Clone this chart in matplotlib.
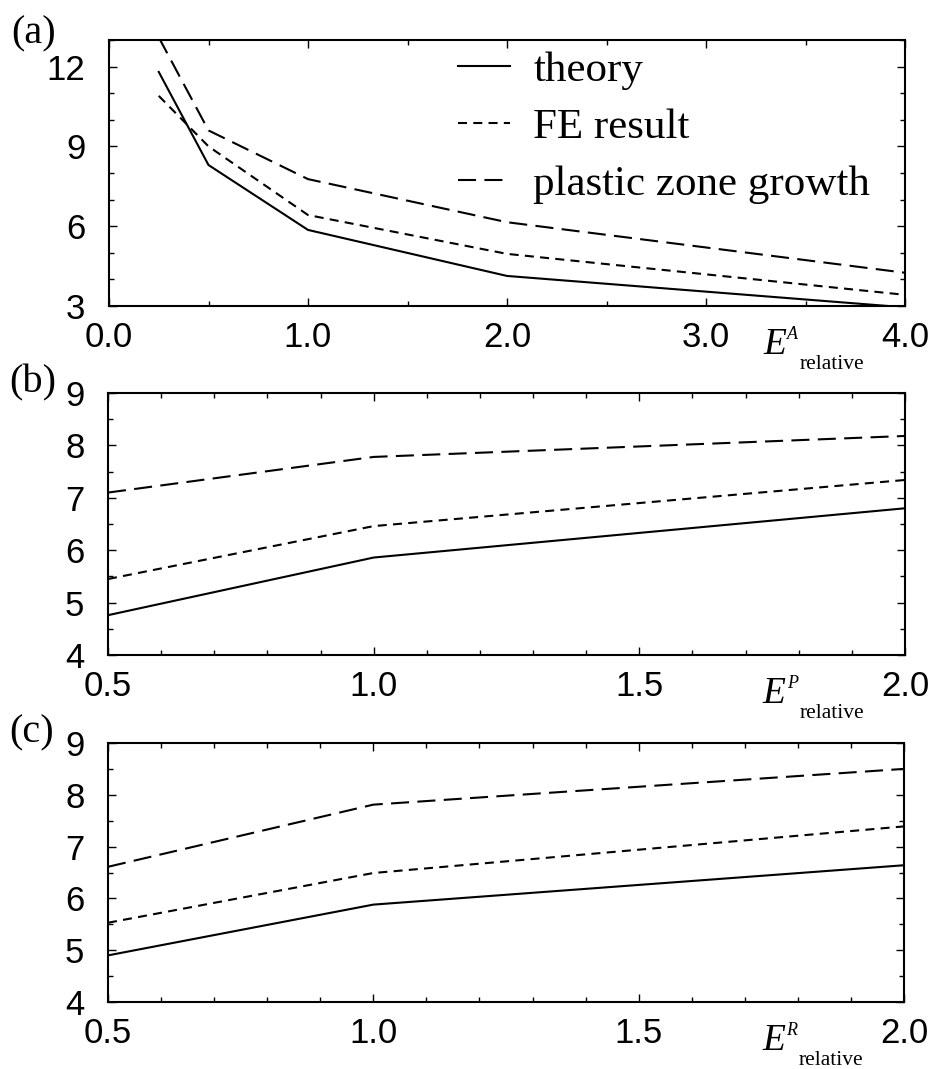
"""
Three stacked panels: theory vs FE vs plastic zone growth
against relative stiffness of each layer
"""
import matplotlib
matplotlib.use('Agg')
import matplotlib.pyplot as plt
from matplotlib.ticker import MultipleLocator, FormatStrFormatter

# panel (a): E^A relative
xa = [0.25, 0.5, 1.0, 2.0, 4.0]
theory_a = [11.8, 8.3, 5.86, 4.13, 2.95]
fe_a = [10.9, 9.0, 6.42, 4.96, 3.42]
plastic_a = [13.1, 9.6, 7.77, 6.15, 4.25]

# panel (b): E^P relative
xb = [0.5, 1.0, 2.0]
theory_b = [4.76, 5.86, 6.8]
fe_b = [5.45, 6.46, 7.34]
plastic_b = [7.1, 7.78, 8.18]

# panel (c): E^R relative
xc = [0.5, 1.0, 2.0]
theory_c = [4.9, 5.88, 6.64]
fe_c = [5.53, 6.49, 7.39]
plastic_c = [6.61, 7.81, 8.5]

labels = ['theory', 'FE result', 'plastic zone growth']
supers = ['A', 'P', 'R']
panel_names = ['(a)', '(b)', '(c)']

SANS = 'Liberation Sans'
SERIF = 'Liberation Serif'
W, H = 934, 1069

plt.rcParams['lines.scale_dashes'] = False
plt.rcParams['font.family'] = SANS

fig = plt.figure(figsize=(W / 100, H / 100), dpi=100)


def px_axes(left, top, right, bottom):
    return fig.add_axes([left / W, 1 - bottom / H, (right - left) / W, (bottom - top) / H])


ax_a = px_axes(109, 40, 905, 306)
ax_b = px_axes(108, 393, 905, 655)
ax_c = px_axes(108, 743, 904, 1002)

styles = [
    dict(color='black', lw=1.5, ls='-'),
    dict(color='black', lw=1.5, ls=(0, (6.5, 4.5))),
    dict(color='black', lw=1.5, ls=(0, (13, 6))),
]

data = [
    (ax_a, xa, [theory_a, fe_a, plastic_a]),
    (ax_b, xb, [theory_b, fe_b, plastic_b]),
    (ax_c, xc, [theory_c, fe_c, plastic_c]),
]

for i, (ax, x, series) in enumerate(data):
    for ys, st, lab in zip(series, styles, labels):
        ax.plot(x, ys, label=lab, **st)

    ax.tick_params(which='both', direction='in', top=True, right=True, width=1.0)
    ax.tick_params(which='major', length=6)
    ax.tick_params(which='minor', length=3.5)
    ax.tick_params(axis='x', which='major', pad=11, labelsize=25)
    ax.tick_params(axis='y', which='major', pad=17, labelsize=25)
    for sp in ax.spines.values():
        sp.set_linewidth(1.5)

    # x label: E^X_relative built from pieces
    ax.annotate('E', xy=(0.8216, 0), xycoords='axes fraction',
                xytext=(0, -34.5), textcoords='offset points',
                fontsize=27, family=SERIF, style='italic', va='baseline', ha='left')
    ax.annotate(supers[i], xy=(0.8216, 0), xycoords='axes fraction',
                xytext=(17.5, -23.5), textcoords='offset points',
                fontsize=13, family=SERIF, style='italic', va='baseline', ha='left')
    ax.annotate('relative', xy=(0.8216, 0), xycoords='axes fraction',
                xytext=(26.5, -45.5), textcoords='offset points',
                fontsize=15.5, family=SERIF, va='baseline', ha='left')

ax_a.set_xlim(0.0, 4.0)
ax_a.set_ylim(3, 13)
ax_a.xaxis.set_major_locator(MultipleLocator(1.0))
ax_a.xaxis.set_minor_locator(MultipleLocator(0.5))
ax_a.xaxis.set_major_formatter(FormatStrFormatter('%.1f'))
ax_a.yaxis.set_major_locator(MultipleLocator(3))
ax_a.yaxis.set_minor_locator(MultipleLocator(1))

for ax in (ax_b, ax_c):
    ax.set_xlim(0.5, 2.0)
    ax.set_ylim(4, 9)
    ax.xaxis.set_major_locator(MultipleLocator(0.5))
    ax.xaxis.set_minor_locator(MultipleLocator(0.1))
    ax.xaxis.set_major_formatter(FormatStrFormatter('%.1f'))
    ax.yaxis.set_major_locator(MultipleLocator(1))
    ax.yaxis.set_minor_locator(MultipleLocator(0.5))

leg = ax_a.legend(loc='upper left', bbox_to_anchor=(0.4385, 0.96), frameon=False,
                  prop={'family': SERIF, 'size': 31}, handlelength=1.2,
                  handletextpad=0.55, labelspacing=0.42, borderaxespad=0, borderpad=0)

# panel letters
for name, (xp, yp) in zip(panel_names, [(11, 34), (9, 383), (9, 733)]):
    fig.text(xp / W, 1 - yp / H, name, family=SERIF, fontsize=29, ha='left', va='center')

fig.savefig('out.png', dpi=100)
